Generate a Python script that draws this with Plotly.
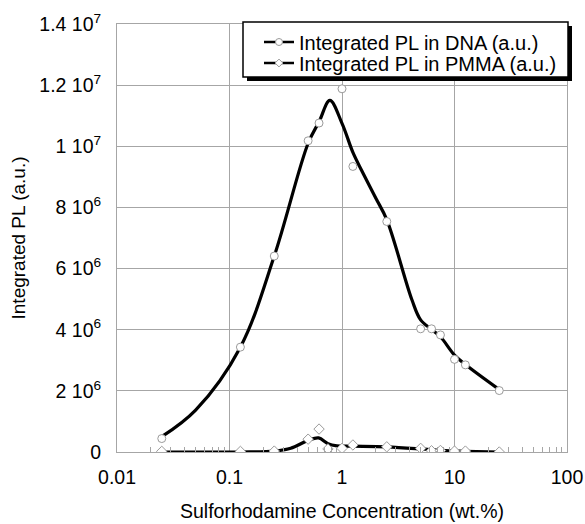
import plotly.graph_objects as go

# ---- data ----
dna_x = [0.025, 0.125, 0.25, 0.5, 0.625, 1.0, 1.25, 2.5, 5, 6.25, 7.5, 10, 12.5, 25]
dna_y = [0.44e6, 3.43e6, 6.41e6, 10.18e6, 10.76e6, 11.88e6, 9.34e6, 7.54e6,
         4.03e6, 4.03e6, 3.83e6, 3.03e6, 2.85e6, 2.01e6]

pmma_x = [0.025, 0.125, 0.25, 0.5, 0.625, 0.75, 1.0, 1.25, 2.5, 5, 6.25, 7.5, 10, 12.5, 25]
pmma_y = [0.02e6, 0.02e6, 0.03e6, 0.42e6, 0.75e6, 0.10e6, 0.12e6, 0.23e6, 0.17e6,
          0.12e6, 0.04e6, 0.05e6, 0.03e6, 0.03e6, 0.0]

# smoothed fit curves (as drawn in the reference)
dna_fit_x = [0.025, 0.05, 0.125, 0.25, 0.5, 0.625, 0.78, 1.0, 1.25, 1.5, 2.0, 2.5, 4.19, 5, 6.25, 7.5, 10, 12.5, 25]
dna_fit_y = [0.5e6, 1.37e6, 3.43e6, 6.41e6, 10.1e6, 10.8e6, 11.5e6, 10.75e6, 9.8e6, 9.2e6, 8.3e6,
             7.6e6, 4.97e6, 4.32e6, 4.01e6, 3.77e6, 3.17e6, 2.86e6, 2.04e6]

pmma_fit_x = [0.025, 0.125, 0.25, 0.35, 0.5, 0.62, 0.75, 0.9, 1.25, 2.5, 5, 7.5, 10, 12.5, 25]
pmma_fit_y = [0.0, 0.0, 0.03e6, 0.12e6, 0.38e6, 0.46e6, 0.27e6, 0.2e6, 0.19e6, 0.17e6,
              0.1e6, 0.05e6, 0.03e6, 0.02e6, 0.0]

x_tickvals = [0.01, 0.1, 1, 10, 100]
x_ticktext = ["0.01", "0.1", "1", "10", "100"]
y_tickvals = [0, 2e6, 4e6, 6e6, 8e6, 1e7, 1.2e7, 1.4e7]
y_ticktext = ["0", "2 10<sup>6</sup>", "4 10<sup>6</sup>", "6 10<sup>6</sup>", "8 10<sup>6</sup>",
              "1 10<sup>7</sup>", "1.2 10<sup>7</sup>", "1.4 10<sup>7</sup>"]

series_names = ["Integrated PL in DNA (a.u.)", "Integrated PL in PMMA (a.u.)"]

FONT = "Liberation Sans, Arial, sans-serif"
GRID = "#a6a6a6"
MK_LINE = "#9a9a9a"

W, H = 585, 524
L, R, T, B = 117, 18, 24, 72
pw, ph = W - L - R, H - T - B

def px2paper(px, py):
    return (px - L) / pw, (H - B - py) / ph

fig = go.Figure()

# fit lines
fig.add_trace(go.Scatter(x=dna_fit_x, y=dna_fit_y, mode="lines",
                         line=dict(color="black", width=3.2, shape="spline", smoothing=1.0),
                         showlegend=False, hoverinfo="skip"))
fig.add_trace(go.Scatter(x=pmma_fit_x, y=pmma_fit_y, mode="lines",
                         line=dict(color="black", width=3.2, shape="spline", smoothing=1.0),
                         showlegend=False, hoverinfo="skip"))
# data markers
fig.add_trace(go.Scatter(x=dna_x, y=dna_y, mode="markers",
                         marker=dict(symbol="circle", size=8, color="white", line=dict(color=MK_LINE, width=1)),
                         showlegend=False))
fig.add_trace(go.Scatter(x=pmma_x, y=pmma_y, mode="markers",
                         marker=dict(symbol="diamond", size=8, color="white", line=dict(color=MK_LINE, width=1)),
                         showlegend=False))
# legend entries (one legend per row to control spacing)
fig.add_trace(go.Scatter(x=[None], y=[None], mode="lines+markers", name=series_names[0], legend="legend",
                         line=dict(color="black", width=2.5),
                         marker=dict(symbol="circle", size=7, color="white", line=dict(color=MK_LINE, width=1))))
fig.add_trace(go.Scatter(x=[None], y=[None], mode="lines+markers", name=series_names[1], legend="legend2",
                         line=dict(color="black", width=2.5),
                         marker=dict(symbol="diamond", size=6, color="white", line=dict(color=MK_LINE, width=1))))

minor_vals = [m * 10 ** e for e in range(-2, 2) for m in range(2, 10)]

lx1, ly1 = px2paper(259, 42)
lx2, ly2 = px2paper(259, 63)
leg_common = dict(xanchor="left", yanchor="middle", bgcolor="rgba(0,0,0,0)", borderwidth=0,
                  font=dict(size=20), itemwidth=30)

fig.update_layout(
    width=W, height=H,
    margin=dict(l=L, r=R, t=T, b=B, autoexpand=False),
    paper_bgcolor="white", plot_bgcolor="white",
    font=dict(family=FONT, size=19.5, color="black"),
    xaxis=dict(type="log", range=[-2, 2], tickmode="array", tickvals=x_tickvals, ticktext=x_ticktext,
               showgrid=True, gridcolor=GRID, gridwidth=1, showline=True, linecolor=GRID, linewidth=1, mirror=True,
               ticks="", ticklabelstandoff=8, zeroline=False, automargin=False,
               minor=dict(tickmode="array", tickvals=minor_vals, ticks="inside", ticklen=5, tickcolor=GRID, showgrid=False),
               title=dict(text="Sulforhodamine Concentration (wt.%)", font=dict(size=19.5), standoff=16)),
    yaxis=dict(range=[0, 1.4e7], tickmode="array", tickvals=y_tickvals, ticktext=y_ticktext,
               showgrid=True, gridcolor=GRID, gridwidth=1, showline=True, linecolor=GRID, linewidth=1, mirror=True,
               ticks="", ticklabelstandoff=11, zeroline=False, automargin=False,
               title=dict(text="Integrated PL (a.u.)", font=dict(size=19), standoff=8)),
    legend=dict(x=lx1, y=ly1, **leg_common),
    legend2=dict(x=lx2, y=ly2, **leg_common),
)

# legend drop shadow and box
sx0, sy0 = px2paper(247, 26)
sx1, sy1 = px2paper(572, 81)
fig.add_shape(type="rect", xref="paper", yref="paper", x0=sx0, y0=sy1, x1=sx1, y1=sy0,
              fillcolor="black", line=dict(width=0), layer="above")
bx0, by0 = px2paper(243, 22)
bx1, by1 = px2paper(568, 77)
fig.add_shape(type="rect", xref="paper", yref="paper", x0=bx0, y0=by1, x1=bx1, y1=by0,
              fillcolor="white", line=dict(color="black", width=1.5), layer="above")

fig.write_html("out.html", config={"displayModeBar": False},
               post_script="document.body.style.margin='0';document.body.style.overflow='hidden';")
